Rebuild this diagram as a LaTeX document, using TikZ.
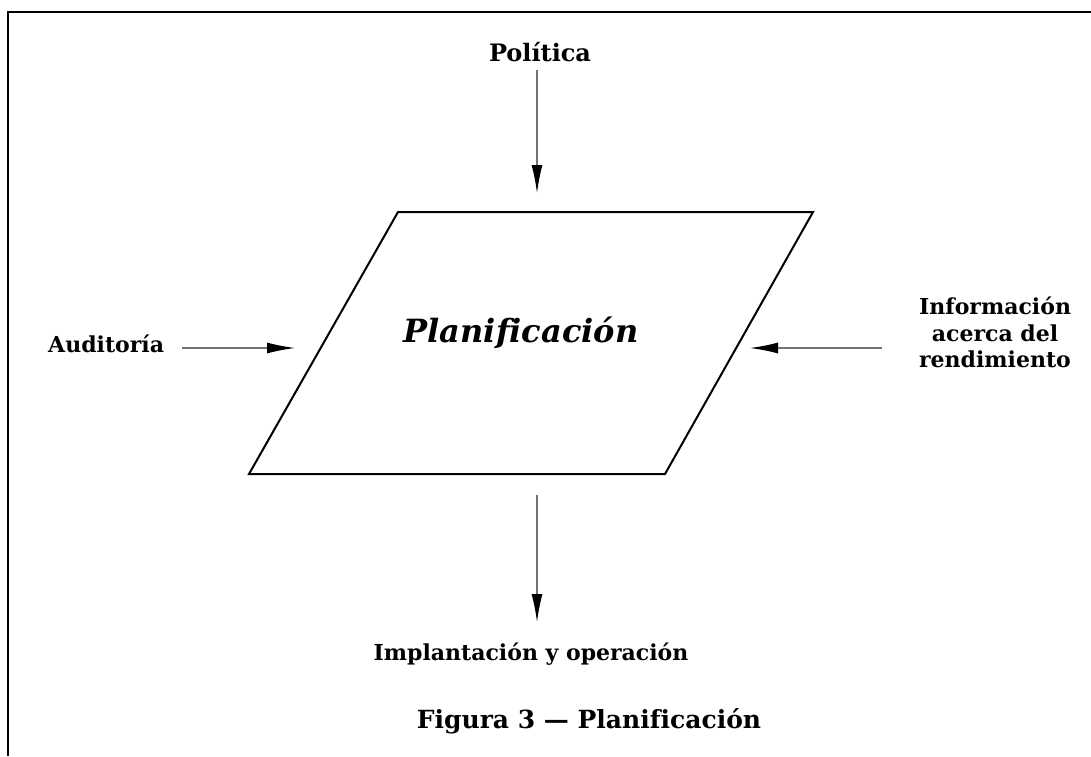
\documentclass[tikz,border=0pt]{standalone}
\usepackage{fontspec}
\setmainfont[Ligatures=NoCommon]{DejaVu Serif}
\usetikzlibrary{arrows.meta}
\begin{document}
\begin{tikzpicture}[x=1pt,y=-1pt,
  lbl/.style={font=\fontsize{22}{26.5}\selectfont\bfseries, align=center, inner sep=0pt},
  flow/.style={draw=black!55, line width=1.3pt, -{Latex[length=28pt,width=11pt,color=black]}},
  box/.style={draw=black, line width=2pt, line join=miter}]
\useasboundingbox (0,0) rectangle (1091,756);
\fill[white] (0,0) rectangle (1091,756);
% page frame (top and left edges)
\draw[line width=2pt] (1091,12) -- (8,12) -- (8,756);

% planning parallelogram
\draw[box] (398,212) coordinate (tl) -- (813,212) coordinate (tr)
  -- (665,474) coordinate (br) -- (249,474) coordinate (bl) -- cycle;
\node[font=\fontsize{32}{36}\selectfont\bfseries\itshape, inner sep=0pt, anchor=base]
  (plan) at (521,342) {Planificación};

% labels
\node[lbl, font=\fontsize{24}{28}\selectfont\bfseries, anchor=base] (pol) at (540,61) {Política};
\node[lbl, anchor=base west] (aud) at (48,352) {Auditoría};
\node[lbl, anchor=north] (info) at (995,297) {Información\\acerca del\\rendimiento};
\node[lbl, anchor=base] (impl) at (531,660) {Implantación y operación};
\node[font=\fontsize{25}{29}\selectfont\bfseries, inner sep=0pt, anchor=base]
  (fig) at (589,728) {Figura 3 — Planificación};

% arrow end points
\coordinate (polTail) at (537,70);
\coordinate (polHead) at (537,193);
\coordinate (audTail) at (182,348);
\coordinate (audHead) at (295,348);
\coordinate (infoTail) at (882,348);
\coordinate (infoHead) at (750,348);
\coordinate (implTail) at (537,495);
\coordinate (implHead) at (537,622);

% flows
\draw[flow] (polTail) -- (polHead);
\draw[flow] (audTail) -- (audHead);
\draw[flow] (infoTail) -- (infoHead);
\draw[flow] (implTail) -- (implHead);
\end{tikzpicture}
\end{document}
